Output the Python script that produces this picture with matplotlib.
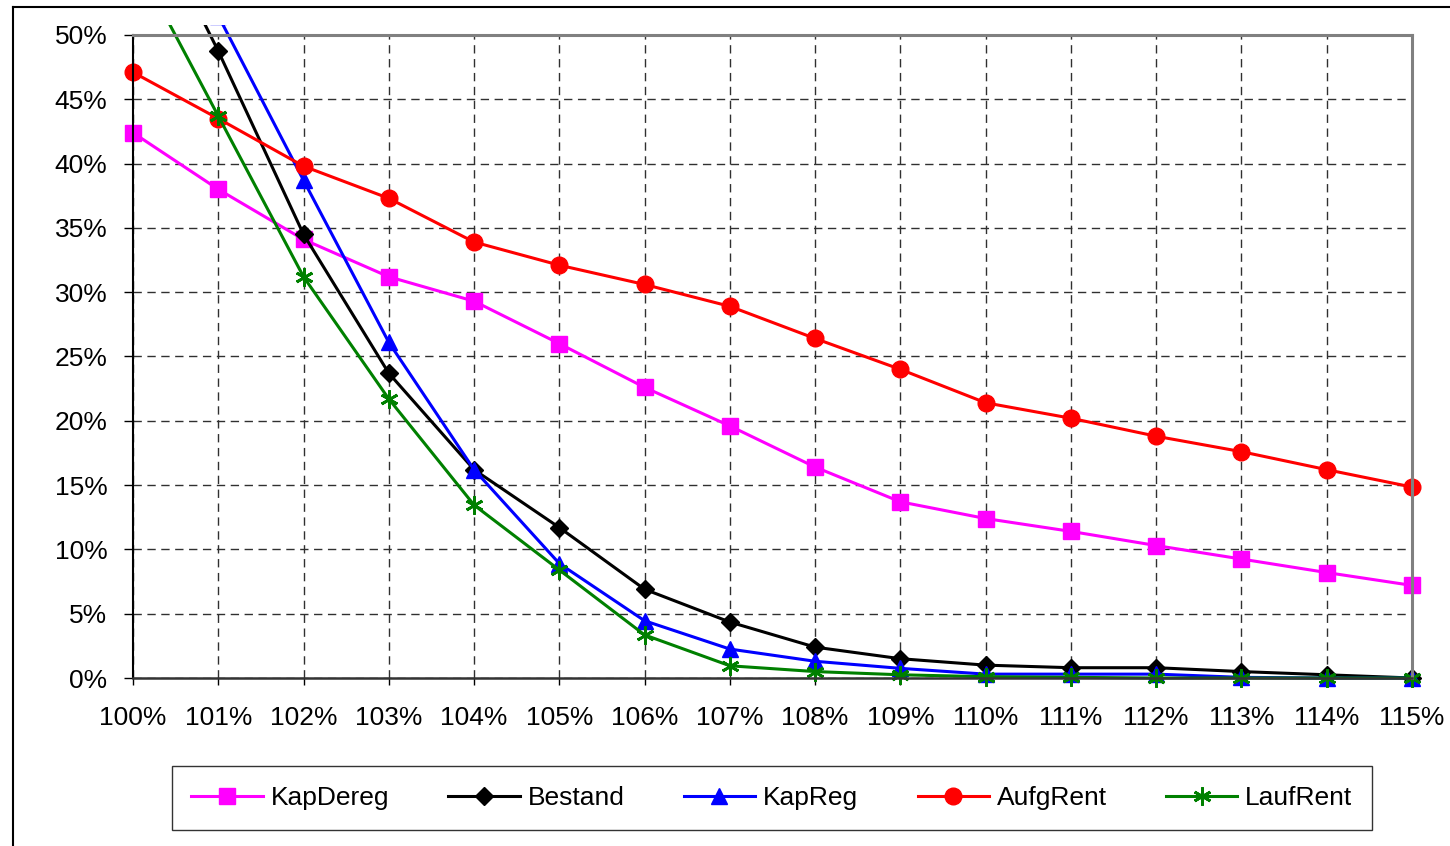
import matplotlib
matplotlib.use('Agg')
import matplotlib.pyplot as plt
from matplotlib.patches import Rectangle
from matplotlib.lines import Line2D
import numpy as np

plt.rcParams['font.family'] = ['Liberation Sans', 'DejaVu Sans']

x_labels = ['100%', '101%', '102%', '103%', '104%', '105%', '106%', '107%',
            '108%', '109%', '110%', '111%', '112%', '113%', '114%', '115%']
kapdereg = [42.4, 38.0, 34.1, 31.2, 29.3, 26.0, 22.6, 19.6, 16.4, 13.7, 12.4, 11.4, 10.3, 9.25, 8.2, 7.2]
bestand = [62.0, 48.75, 34.5, 23.7, 16.2, 11.7, 6.9, 4.35, 2.4, 1.5, 1.0, 0.8, 0.8, 0.5, 0.25, 0.0]
kapreg = [65.0, 51.5, 38.7, 26.1, 16.2, 8.9, 4.45, 2.25, 1.3, 0.75, 0.3, 0.3, 0.3, 0.05, 0.0, 0.0]
aufgrent = [47.1, 43.5, 39.8, 37.3, 33.9, 32.1, 30.6, 28.9, 26.4, 24.0, 21.4, 20.2, 18.8, 17.6, 16.2, 14.85]
laufrent = [56.2, 43.7, 31.2, 21.7, 13.45, 8.4, 3.35, 0.95, 0.5, 0.25, 0.1, 0.05, 0.0, 0.0, 0.0, 0.0]
y_ticks = [0, 5, 10, 15, 20, 25, 30, 35, 40, 45, 50]

x = np.arange(len(x_labels))

fig = plt.figure(figsize=(14.5, 8.46), dpi=100)
ax = fig.add_axes([133/1450, 1-678/846, (1412-133)/1450, (678-35)/846])

series = [
    ('KapDereg', kapdereg, '#FF00FF', dict(marker='s', markersize=12)),
    ('Bestand', bestand, 'black', dict(marker='D', markersize=9)),
    ('KapReg', kapreg, '#0000FF', dict(marker='^', markersize=12)),
    ('AufgRent', aufgrent, '#FF0000', dict(marker='o', markersize=12)),
    ('LaufRent', laufrent, '#008000', dict(marker=(6, 2, 0), markersize=13, markeredgewidth=2)),
]

# lines may run a little above the plot top, like in the original
clip = Rectangle((-0.03, -0.05), 1.06, 1.0156 + 0.05, transform=ax.transAxes,
                 facecolor='none', edgecolor='none')
ax.add_patch(clip)
for name, vals, col, mk in series:
    ln, = ax.plot(x, vals, color=col, lw=2.2, label=name, markeredgecolor=col,
                  markerfacecolor=col, **mk)
    ln.set_clip_path(clip)

ax.set_xlim(0, len(x_labels) - 1)
ax.set_ylim(0, 50)
ax.set_xticks(x)
ax.set_xticklabels(x_labels)
ax.set_yticks(y_ticks)
ax.set_yticklabels([f'{v}%' for v in y_ticks])
ax.tick_params(axis='both', labelsize=19, direction='out', width=1)
ax.tick_params(axis='y', length=6.5, pad=12)
ax.tick_params(axis='x', length=5, pad=15)

ax.grid(True, color='#303030', linestyle=(0, (6, 4)), lw=1)
for s in ['top', 'right']:
    ax.spines[s].set_color('#808080')
    ax.spines[s].set_linewidth(2.2)
ax.spines['left'].set_color('black')
ax.spines['left'].set_linewidth(1.5)
ax.spines['bottom'].set_color('#333333')
ax.spines['bottom'].set_linewidth(1.8)

# outer chart frame
fig.add_artist(Line2D([13/1450, 13/1450], [0, 1-7/846], color='black', lw=1.5))
fig.add_artist(Line2D([13/1450, 1], [1-7/846, 1-7/846], color='black', lw=1.5))

leg = fig.legend(loc='center', bbox_to_anchor=(772/1450, 1-798/846), ncol=5,
                 fontsize=19, frameon=True, fancybox=False, handlelength=2.7,
                 handletextpad=0.3, columnspacing=2.25, borderpad=0.75)
leg.get_frame().set_edgecolor('black')
leg.get_frame().set_linewidth(1)

fig.savefig('out.png', dpi=100)
